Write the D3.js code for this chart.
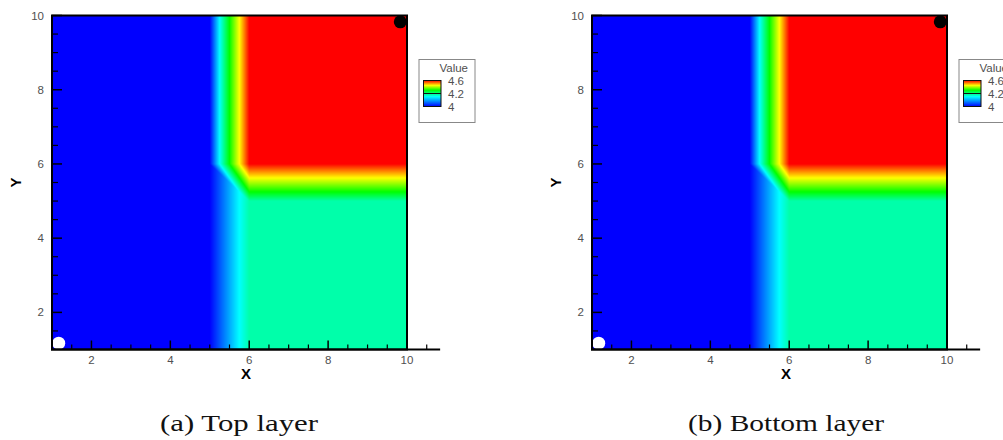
<!DOCTYPE html>
<html>
<head>
<meta charset="utf-8">
<script src="https://cdn.jsdelivr.net/npm/d3@7"></script>
<style>
  body { margin: 0; background: #fff; }
  svg { display: block; }
</style>
</head>
<body>
<script>
// ---- data ----------------------------------------------------------
// Mesh node coordinates
const xNodes = [1, 2, 3, 4, 5, 6, 7, 8, 9, 10];
const yNodes = [1, 2, 3, 4, 5, 6, 7, 8, 9, 10];

// Nodal values, one row per y node (y = 1 first)
const topLayer = [
  [4.0, 4.0, 4.0, 4.0, 4.0, 4.2, 4.2, 4.2, 4.2, 4.2],
  [4.0, 4.0, 4.0, 4.0, 4.0, 4.2, 4.2, 4.2, 4.2, 4.2],
  [4.0, 4.0, 4.0, 4.0, 4.0, 4.2, 4.2, 4.2, 4.2, 4.2],
  [4.0, 4.0, 4.0, 4.0, 4.0, 4.2, 4.2, 4.2, 4.2, 4.2],
  [4.0, 4.0, 4.0, 4.0, 4.0, 4.2, 4.2, 4.2, 4.2, 4.2],
  [4.0, 4.0, 4.0, 4.0, 4.0, 4.6, 4.6, 4.6, 4.6, 4.6],
  [4.0, 4.0, 4.0, 4.0, 4.0, 4.6, 4.6, 4.6, 4.6, 4.6],
  [4.0, 4.0, 4.0, 4.0, 4.0, 4.6, 4.6, 4.6, 4.6, 4.6],
  [4.0, 4.0, 4.0, 4.0, 4.0, 4.6, 4.6, 4.6, 4.6, 4.6],
  [4.0, 4.0, 4.0, 4.0, 4.0, 4.6, 4.6, 4.6, 4.6, 4.6]
];
const bottomLayer = [
  [4.0, 4.0, 4.0, 4.0, 4.0, 4.2, 4.2, 4.2, 4.2, 4.2],
  [4.0, 4.0, 4.0, 4.0, 4.0, 4.2, 4.2, 4.2, 4.2, 4.2],
  [4.0, 4.0, 4.0, 4.0, 4.0, 4.2, 4.2, 4.2, 4.2, 4.2],
  [4.0, 4.0, 4.0, 4.0, 4.0, 4.2, 4.2, 4.2, 4.2, 4.2],
  [4.0, 4.0, 4.0, 4.0, 4.0, 4.2, 4.2, 4.2, 4.2, 4.2],
  [4.0, 4.0, 4.0, 4.0, 4.0, 4.6, 4.6, 4.6, 4.6, 4.6],
  [4.0, 4.0, 4.0, 4.0, 4.0, 4.6, 4.6, 4.6, 4.6, 4.6],
  [4.0, 4.0, 4.0, 4.0, 4.0, 4.6, 4.6, 4.6, 4.6, 4.6],
  [4.0, 4.0, 4.0, 4.0, 4.0, 4.6, 4.6, 4.6, 4.6, 4.6],
  [4.0, 4.0, 4.0, 4.0, 4.0, 4.6, 4.6, 4.6, 4.6, 4.6]
];

const panelCaptions = ["(a) Top layer", "(b) Bottom layer"];
const panelValues = [topLayer, bottomLayer];

const xTicks = [2, 4, 6, 8, 10];
const yTicks = [2, 4, 6, 8, 10];
const minorStep = 0.5;
const xAxisMax = 10.84;

// Contour colour map
const colorStops = [4.0, 4.15, 4.3, 4.45, 4.6];
const colorRamp = ["#0000ff", "#00ffff", "#00ff00", "#ffff00", "#ff0000"];
const legendTitle = "Value";
const legendLabels = [4.6, 4.2, 4];
const legendLabelText = ["4.6", "4.2", "4"];

// Point markers (start and end)
const markerX = [1.17, 9.83];
const markerY = [1.17, 9.83];
const markerFill = ["#ffffff", "#000000"];

// ---- layout --------------------------------------------------------
const W = 1003, H = 440;
const panelOffset = [0, 540];
const captionX = [239, 786];
const captionWidth = [158, 196];
const plotLeft = 52, plotRight = 407, plotTop = 15.5, plotBottom = 349.5;
const tickFont = "'Liberation Sans', Arial, sans-serif";

const svg = d3.select("body").append("svg")
  .attr("width", W).attr("height", H);

const color = d3.scaleLinear().domain(colorStops).range(colorRamp)
  .interpolate(d3.interpolateRgb).clamp(true);

// Linear interpolation on triangles (each quad split top-left to bottom-right)
function valueAt(vals, x, y) {
  let i = Math.max(0, Math.min(xNodes.length - 2, d3.bisectRight(xNodes, x) - 1));
  let j = Math.max(0, Math.min(yNodes.length - 2, d3.bisectRight(yNodes, y) - 1));
  const s = (x - xNodes[i]) / (xNodes[i + 1] - xNodes[i]);
  const t = (y - yNodes[j]) / (yNodes[j + 1] - yNodes[j]);
  const v00 = vals[j][i], v10 = vals[j][i + 1], v01 = vals[j + 1][i], v11 = vals[j + 1][i + 1];
  if (s + t <= 1) return v00 + s * (v10 - v00) + t * (v01 - v00);
  return v11 + (1 - s) * (v01 - v11) + (1 - t) * (v10 - v11);
}

panelValues.forEach((vals, p) => {
  const g = svg.append("g").attr("transform", `translate(${panelOffset[p]},0)`);

  const x = d3.scaleLinear().domain([xNodes[0], xNodes[xNodes.length - 1]]).range([plotLeft, plotRight]);
  const y = d3.scaleLinear().domain([yNodes[0], yNodes[yNodes.length - 1]]).range([plotBottom, plotTop]);

  // Flooded contour field rendered per pixel
  const x0 = x(xNodes[0]), x1 = x(xNodes[xNodes.length - 1]);
  const y0 = y(yNodes[yNodes.length - 1]), y1 = y(yNodes[0]);
  const cw = Math.round(x1 - x0), ch = Math.round(y1 - y0);
  const canvas = document.createElement("canvas");
  canvas.width = cw; canvas.height = ch;
  const ctx = canvas.getContext("2d");
  const img = ctx.createImageData(cw, ch);
  for (let py = 0; py < ch; py++) {
    const dy = y.invert(y0 + py + 0.5);
    for (let px = 0; px < cw; px++) {
      const dx = x.invert(x0 + px + 0.5);
      const c = d3.rgb(color(valueAt(vals, dx, dy)));
      const k = (py * cw + px) * 4;
      img.data[k] = c.r; img.data[k + 1] = c.g; img.data[k + 2] = c.b; img.data[k + 3] = 255;
    }
  }
  ctx.putImageData(img, 0, 0);
  g.append("image")
    .attr("x", x0).attr("y", y0).attr("width", cw).attr("height", ch)
    .attr("preserveAspectRatio", "none")
    .attr("href", canvas.toDataURL());

  // Markers
  g.selectAll("circle.marker").data(markerX).join("circle")
    .attr("class", "marker")
    .attr("cx", (d) => x(d))
    .attr("cy", (d, i) => y(markerY[i]))
    .attr("r", 6.5)
    .attr("fill", (d, i) => markerFill[i]);

  // Frame around the data area
  g.append("rect")
    .attr("x", x0).attr("y", y0).attr("width", x1 - x0).attr("height", y1 - y0)
    .attr("fill", "none").attr("stroke", "#000").attr("stroke-width", 2);

  // X axis line extends past the data
  g.append("line")
    .attr("x1", x0 - 1).attr("x2", x(xAxisMax))
    .attr("y1", y1).attr("y2", y1)
    .attr("stroke", "#000").attr("stroke-width", 2);

  const xMinor = d3.range(xNodes[0] + minorStep, xAxisMax, minorStep).filter((v) => !xTicks.includes(v));
  const yMinor = d3.range(yNodes[0] + minorStep, yNodes[yNodes.length - 1], minorStep).filter((v) => !yTicks.includes(v));

  g.selectAll("line.xmaj").data(xTicks).join("line").attr("class", "xmaj")
    .attr("x1", (d) => x(d)).attr("x2", (d) => x(d))
    .attr("y1", y1).attr("y2", y1 - 9)
    .attr("stroke", "#000").attr("stroke-width", 1.5);
  g.selectAll("line.xmin").data(xMinor).join("line").attr("class", "xmin")
    .attr("x1", (d) => x(d)).attr("x2", (d) => x(d))
    .attr("y1", y1).attr("y2", y1 - 5)
    .attr("stroke", "#000").attr("stroke-width", 1.2);
  g.selectAll("line.ymaj").data(yTicks).join("line").attr("class", "ymaj")
    .attr("x1", x0).attr("x2", x0 + 10)
    .attr("y1", (d) => y(d)).attr("y2", (d) => y(d))
    .attr("stroke", "#000").attr("stroke-width", 1.5);
  g.selectAll("line.ymin").data(yMinor).join("line").attr("class", "ymin")
    .attr("x1", x0).attr("x2", x0 + 6)
    .attr("y1", (d) => y(d)).attr("y2", (d) => y(d))
    .attr("stroke", "#000").attr("stroke-width", 1.2);

  // Tick labels
  g.selectAll("text.xl").data(xTicks).join("text").attr("class", "xl")
    .attr("x", (d) => x(d)).attr("y", y1 + 14)
    .attr("text-anchor", "middle")
    .attr("font-family", tickFont).attr("font-size", 11.5).attr("fill", "#505050")
    .text((d) => d);
  g.selectAll("text.yl").data(yTicks).join("text").attr("class", "yl")
    .attr("x", x0 - 8).attr("y", (d) => y(d) + 4)
    .attr("text-anchor", "end")
    .attr("font-family", tickFont).attr("font-size", 11.5).attr("fill", "#505050")
    .text((d) => d);

  // Axis titles
  g.append("text")
    .attr("x", (x0 + x(xAxisMax)) / 2).attr("y", y1 + 29)
    .attr("text-anchor", "middle")
    .attr("font-family", tickFont).attr("font-weight", "bold").attr("font-size", 15)
    .text("X");
  g.append("text")
    .attr("transform", `translate(${x0 - 31},${(y0 + y1) / 2}) rotate(-90)`)
    .attr("text-anchor", "middle")
    .attr("font-family", tickFont).attr("font-weight", "bold").attr("font-size", 15)
    .text("Y");

  // Legend
  const lg = g.append("g");
  const boxX = 419, boxY = 59.5, boxW = 56, boxH = 63;
  const barX = 423.5, barW = 17.5, barTop = 80.5, barBottom = 106.5;
  lg.append("rect")
    .attr("x", boxX).attr("y", boxY).attr("width", boxW).attr("height", boxH)
    .attr("fill", "#fff").attr("stroke", "#888").attr("stroke-width", 1);
  lg.append("text")
    .attr("x", boxX + 49).attr("y", boxY + 12.5)
    .attr("text-anchor", "end")
    .attr("font-family", tickFont).attr("font-size", 11.5).attr("fill", "#505050")
    .text(legendTitle);

  const legendY = d3.scaleLinear()
    .domain([legendLabels[2], legendLabels[1], legendLabels[0]])
    .range([barBottom, (barTop + barBottom) / 2, barTop]);
  const gradId = "legendGrad" + p;
  const grad = svg.append("defs").append("linearGradient")
    .attr("id", gradId).attr("x1", 0).attr("y1", 1).attr("x2", 0).attr("y2", 0);
  grad.selectAll("stop").data(colorStops).join("stop")
    .attr("offset", (d) => (barBottom - legendY(d)) / (barBottom - barTop))
    .attr("stop-color", (d) => color(d));
  lg.append("rect")
    .attr("x", barX).attr("y", barTop).attr("width", barW).attr("height", barBottom - barTop)
    .attr("fill", `url(#${gradId})`).attr("stroke", "#111").attr("stroke-width", 1);
  lg.append("line")
    .attr("x1", barX).attr("x2", barX + barW)
    .attr("y1", legendY(legendLabels[1])).attr("y2", legendY(legendLabels[1]))
    .attr("stroke", "#111").attr("stroke-width", 1);
  lg.selectAll("text.ll").data(legendLabels).join("text").attr("class", "ll")
    .attr("x", boxX + 29).attr("y", (d) => legendY(d) + 4.5)
    .attr("font-family", tickFont).attr("font-size", 11.5).attr("fill", "#505050")
    .text((d, i) => legendLabelText[i]);
});

// Sub-figure captions
svg.selectAll("text.caption").data(panelCaptions).join("text")
  .attr("class", "caption")
  .attr("x", (d, i) => captionX[i] - captionWidth[i] / 2).attr("y", 431)
  .attr("font-family", "'Liberation Serif', 'Times New Roman', serif")
  .attr("font-size", 24)
  .attr("textLength", (d, i) => captionWidth[i])
  .attr("lengthAdjust", "spacingAndGlyphs")
  .attr("fill", "#111")
  .text((d) => d);
</script>
</body>
</html>
